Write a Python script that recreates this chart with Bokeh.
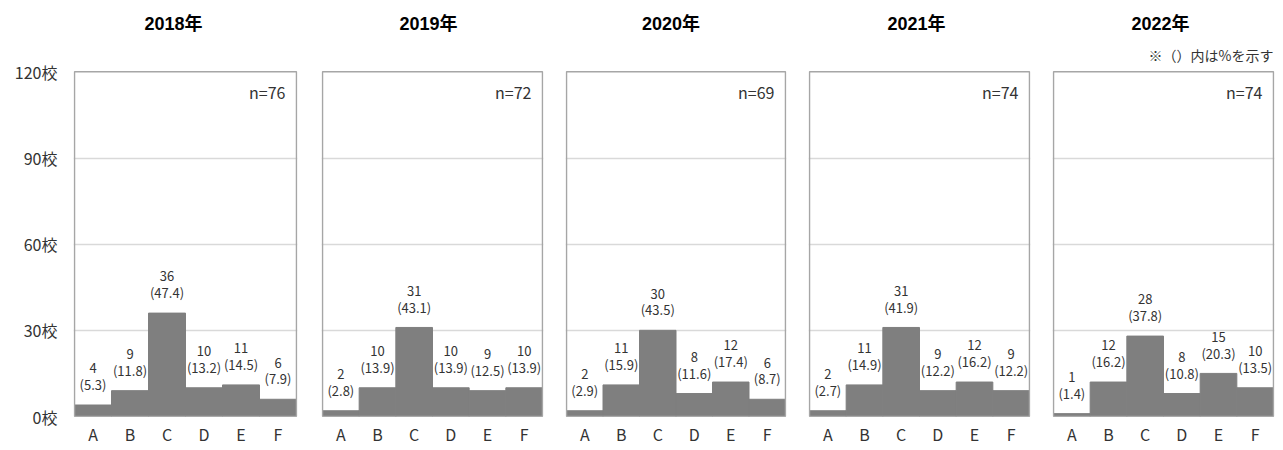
from bokeh.plotting import figure
from bokeh.layouts import row
from bokeh.models import Range1d, FixedTicker, ColumnDataSource
from bokeh.core.properties import value
from bokeh.embed import file_html
from bokeh.resources import INLINE

categories = ["A", "B", "C", "D", "E", "F"]
years = ["2018年", "2019年", "2020年", "2021年", "2022年"]
n_values = [76, 72, 69, 74, 74]
counts_2018 = [4, 9, 36, 10, 11, 6]
counts_2019 = [2, 10, 31, 10, 9, 10]
counts_2020 = [2, 11, 30, 8, 12, 6]
counts_2021 = [2, 11, 31, 9, 12, 9]
counts_2022 = [1, 12, 28, 8, 15, 10]
pct_2018 = [5.3, 11.8, 47.4, 13.2, 14.5, 7.9]
pct_2019 = [2.8, 13.9, 43.1, 13.9, 12.5, 13.9]
pct_2020 = [2.9, 15.9, 43.5, 11.6, 17.4, 8.7]
pct_2021 = [2.7, 14.9, 41.9, 12.2, 16.2, 12.2]
pct_2022 = [1.4, 16.2, 37.8, 10.8, 20.3, 13.5]
y_ticks = [0, 30, 60, 90, 120]
y_tick_labels = ["0校", "30校", "60校", "90校", "120校"]
note_text = "※（）内は%を示す"

all_counts = [counts_2018, counts_2019, counts_2020, counts_2021, counts_2022]
all_pcts = [pct_2018, pct_2019, pct_2020, pct_2021, pct_2022]

FONT = "Noto Sans CJK JP"
TITLE_FONT = "Liberation Sans, Noto Sans CJK JP"
TXT = "#333333"

H = 448
FRAME_TOP = 4          # top of drawing frame (canvas px)
BOX_TOP = 72           # where the 120 line sits (canvas px)
BOTTOM = 28
YMAX = y_ticks[-1]
PXU = (H - BOTTOM - BOX_TOP) / YMAX          # pixels per unit
Y_TOP = YMAX + (BOX_TOP - FRAME_TOP) / PXU   # data value at the top of the frame

# (left border, box width, right border)
geoms = [(74, 222, 12), (14, 220, 10), (14, 219, 10), (14, 220, 10), (14, 220, 6)]
title_shift = [-12, -4, -5, -3, -3]
PAD = 1  # px of padding so the box outline is not clipped

figs = []
last = len(years) - 1
for i, (yr, n, counts, pcts, (lb, fw, rb)) in enumerate(zip(years, n_values, all_counts, all_pcts, geoms)):
    nc = len(categories)
    pxx = fw / nc
    pad = PAD / pxx
    p = figure(
        x_range=Range1d(-pad, nc + pad),
        y_range=Range1d(0, Y_TOP),
        width=lb + fw + rb, height=H,
        min_border_left=lb - PAD, min_border_right=rb - PAD,
        min_border_top=FRAME_TOP, min_border_bottom=BOTTOM,
        output_backend="svg", toolbar_location=None,
    )
    p.outline_line_color = None
    p.xgrid.grid_line_color = None
    p.ygrid.ticker = FixedTicker(ticks=y_ticks[1:-1])
    p.ygrid.grid_line_color = "#d9d9d9"
    p.ygrid.grid_line_width = 1.5

    xs = [k + 0.5 for k in range(nc)]
    src = ColumnDataSource(dict(
        x=xs, top=counts,
        cnt=[str(c) for c in counts],
        pct=["(%.1f)" % v for v in pcts],
        y_pct=[c + 11 / PXU for c in counts],
        y_cnt=[c + 32 / PXU for c in counts],
    ))
    p.vbar(x="x", top="top", width=1.0, source=src, fill_color="#7f7f7f", line_color="#7f7f7f")
    p.text(x="x", y="y_pct", text="pct", source=src, text_align="center", text_baseline="bottom",
           text_font=value(FONT), text_font_size="13px", text_color=TXT)
    p.text(x="x", y="y_cnt", text="cnt", source=src, text_align="center", text_baseline="bottom",
           text_font=value(FONT), text_font_size="13px", text_color=TXT)

    # plot-area box (0 .. 120)
    p.quad(left=[0], right=[nc], bottom=[y_ticks[0]], top=[YMAX], fill_color=None,
           line_color="#a6a6a6", line_width=1.5)

    # x axis
    p.xaxis.ticker = FixedTicker(ticks=xs)
    p.xaxis.major_label_overrides = {x: c for x, c in zip(xs, categories)}
    p.xaxis.major_tick_line_color = None
    p.xaxis.major_tick_out = 0
    p.xaxis.major_tick_in = 0
    p.xaxis.minor_tick_line_color = None
    p.xaxis.axis_line_color = None
    p.xaxis.major_label_text_font = FONT
    p.xaxis.major_label_text_font_size = "16px"
    p.xaxis.major_label_text_color = TXT
    p.xaxis.major_label_standoff = 5

    if i == 0:
        p.yaxis.ticker = FixedTicker(ticks=y_ticks)
        p.yaxis.major_label_overrides = {t: l for t, l in zip(y_ticks, y_tick_labels)}
        p.yaxis.major_tick_line_color = None
        p.yaxis.major_tick_out = 0
        p.yaxis.major_tick_in = 0
        p.yaxis.minor_tick_line_color = None
        p.yaxis.axis_line_color = None
        p.yaxis.major_label_text_font = FONT
        p.yaxis.major_label_text_font_size = "16px"
        p.yaxis.major_label_text_color = TXT
        p.yaxis.major_label_standoff = 15 + PAD
    else:
        p.yaxis.visible = False

    # year title
    p.text(x=[nc / 2], y=[YMAX + 48 / PXU], x_offset=title_shift[i], text=[yr],
           text_align="center", text_baseline="middle",
           text_font=value(TITLE_FONT), text_font_style="bold", text_font_size="18px",
           text_color="#000000")
    # n label
    p.text(x=[nc], y=[YMAX - 20 / PXU], x_offset=-11, text=["n=%d" % n], text_align="right",
           text_baseline="middle", text_font=value(FONT), text_font_size="16px", text_color=TXT)
    if i == last:
        p.text(x=[nc], y=[YMAX + 17 / PXU], text=[note_text], text_align="right",
               text_baseline="middle", text_font=value(FONT), text_font_size="14px", text_color=TXT)
    figs.append(p)

layout = row(*figs)
open("out.html", "w").write(file_html(layout, INLINE))
